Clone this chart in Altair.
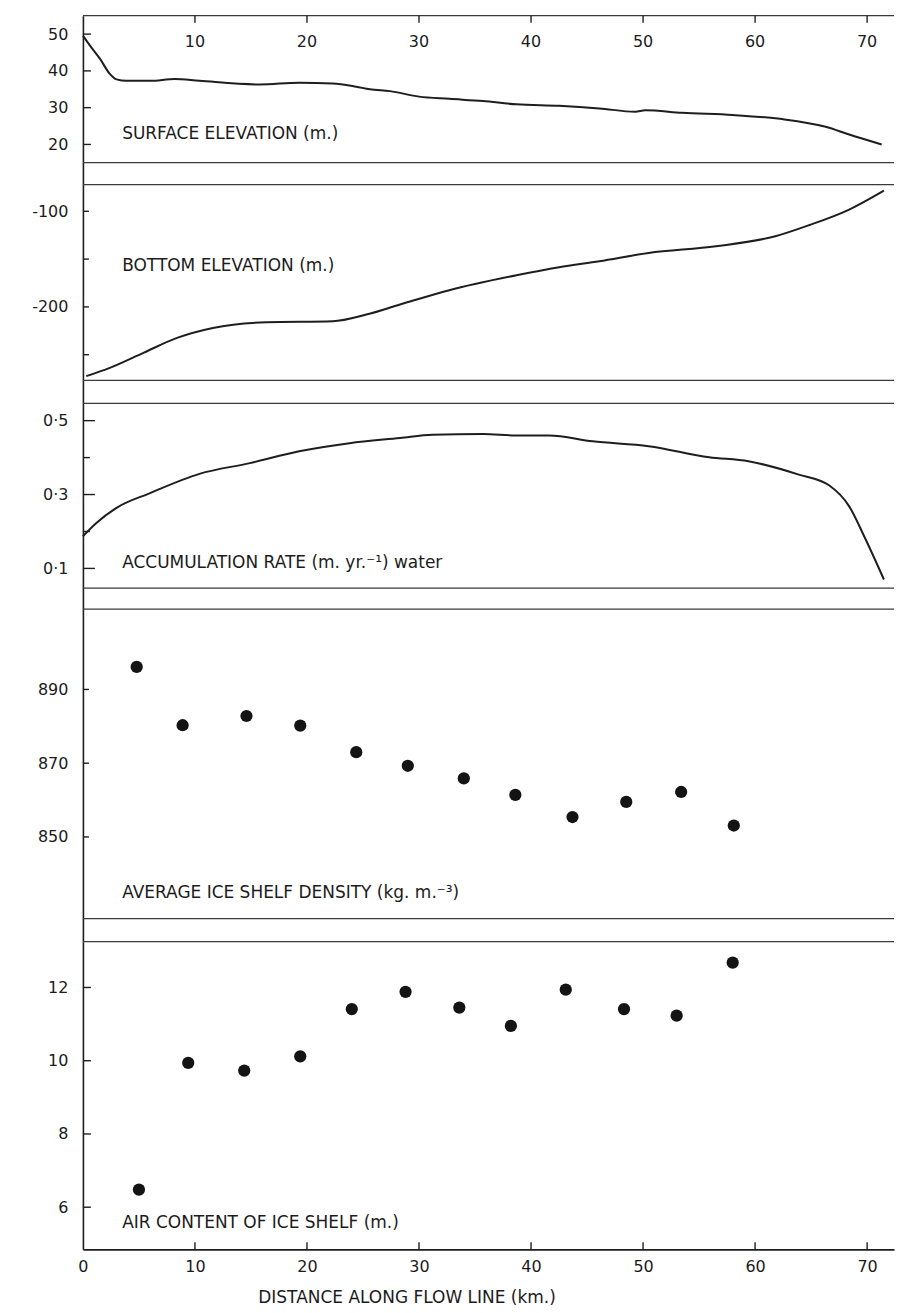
import altair as alt
import pandas as pd

# ---------------- data ----------------
surf_x = [0.0, 0.7, 1.5, 2.4, 3.0, 3.9, 6.0, 8.2, 10.4, 15.8, 19.3, 22.3, 24.4, 25.6, 27.4,
          30.0, 32.7, 35.7, 38.7, 42.5, 46.1, 49.3, 50.2, 53.5, 58.0, 62.4, 66.3, 68.4, 71.3]
surf_y = [49.6, 46.6, 43.4, 39.2, 37.7, 37.3, 37.3, 37.8, 37.3, 36.3, 36.8, 36.6, 35.7, 35.0,
          34.5, 33.0, 32.4, 31.8, 30.9, 30.5, 29.8, 28.9, 29.3, 28.6, 28.0, 26.9, 24.8, 22.7, 20.0]

bot_x = [0.3, 2.4, 5.4, 8.4, 11.6, 16.4, 22.3, 25.3, 28.3, 32.7, 38.7, 42.5, 46.1,
         50.5, 56.5, 61.8, 64.8, 68.4, 71.5]
bot_y = [-272.4, -263.7, -248.0, -232.4, -222.0, -216.0, -215.0, -208.0, -197.5, -182.5,
         -166.9, -158.5, -152.2, -143.6, -136.6, -126.1, -114.6, -98.2, -78.4]

acc_x = [0.0, 1.2, 3.0, 6.0, 10.4, 14.9, 19.3, 23.8, 28.3, 31.2, 35.7, 38.7, 41.6, 45.5,
         50.5, 55.9, 59.4, 63.9, 66.6, 68.4, 69.8, 71.5]
acc_y = [0.187, 0.223, 0.264, 0.304, 0.356, 0.385, 0.417, 0.439, 0.453, 0.462, 0.464, 0.460,
         0.460, 0.444, 0.431, 0.401, 0.390, 0.354, 0.325, 0.268, 0.183, 0.070]

dens_x = [4.8, 8.9, 14.6, 19.4, 24.4, 29.0, 34.0, 38.6, 43.7, 48.5, 53.4, 58.1]
dens_y = [896.1, 880.3, 882.8, 880.2, 873.0, 869.3, 865.9, 861.4, 855.4, 859.5, 862.2, 853.1]

air_x = [5.0, 9.4, 14.4, 19.4, 24.0, 28.8, 33.6, 38.2, 43.1, 48.3, 53.0, 58.0]
air_y = [6.48, 9.94, 9.73, 10.12, 11.41, 11.88, 11.45, 10.95, 11.94, 11.41, 11.23, 12.68]

x_ticks = [0, 10, 20, 30, 40, 50, 60, 70]
surf_ticks = [20, 30, 40, 50]
bot_ticks = [-100, -200]
bot_minor = [-150, -250]
acc_ticks = [0.1, 0.3, 0.5]
acc_minor = [0.2, 0.4]
dens_ticks = [850, 870, 890]
air_ticks = [6, 8, 10, 12]

labels = [
    "SURFACE ELEVATION (m.)",
    "BOTTOM ELEVATION (m.)",
    "ACCUMULATION RATE (m. yr.\u207b\u00b9) water",
    "AVERAGE ICE SHELF DENSITY (kg. m.\u207b\u00b3)",
    "AIR CONTENT OF ICE SHELF (m.)",
]
label_x = 3.5
label_y = [22.8, -157.5, 0.115, 834.9, 5.56]
x_title = "DISTANCE ALONG FLOW LINE (km.)"

# ---------------- styling ----------------
FONT = "DejaVu Sans"
WEIGHT = "normal"
INK = "#1e1e1e"
TXT = "#1c1c1c"
FRAME = "#3a3a3a"
W = 812
FS = 16
LFS = 17
X_DOMAIN = [0, 72.4]
HEIGHTS = [169, 219, 206, 333, 308]
BOTTOM_LINES = [147, 196, 185, 310, None]
Y_DOMAINS = [[9.1, 55.0], [-300.8, -72.0], [-0.010, 0.547], [821.6, 911.8], [4.85, 13.25]]

one = pd.DataFrame({"k": [0]})
U = alt.Undefined


def xscale():
    return alt.Scale(domain=X_DOMAIN, nice=False, zero=False)


def yscale(i):
    return alt.Scale(domain=Y_DOMAINS[i], nice=False, zero=False)


def y_axis(values, expr):
    return alt.Axis(values=values, ticks=False, tickSize=0, labelPadding=15,
                    labelFontSize=FS, labelFont=FONT, labelFontWeight=WEIGHT,
                    labelColor=TXT, labelFlush=False,
                    domainColor=INK, domainWidth=1.6, grid=False, title=None,
                    minExtent=60, maxExtent=60, labelExpr=expr)


def hline(ypix):
    return alt.Chart(one).mark_rule(color=FRAME, strokeWidth=1.3).encode(
        x=alt.value(0), x2=alt.value(W), y=alt.value(ypix))


def yticks(i, values, length):
    df = pd.DataFrame({"y": values})
    return alt.Chart(df).mark_rule(color=INK, strokeWidth=1.4).encode(
        y=alt.Y("y:Q", scale=yscale(i)),
        x=alt.value(0), x2=alt.value(length))


def label_layer(i, has_xaxis):
    df = pd.DataFrame({"x": [label_x], "y": [label_y[i]], "t": [labels[i]]})
    return alt.Chart(df).mark_text(align="left", baseline="middle", font=FONT,
                                   fontSize=LFS, fontWeight=WEIGHT, color=TXT).encode(
        x=alt.X("x:Q", scale=xscale(), axis=U if has_xaxis else None),
        y=alt.Y("y:Q", scale=yscale(i)),
        text="t:N")


def line_layer(i, xs, ys, ticks, expr, x_axis=None):
    df = pd.DataFrame({"x": xs, "y": ys})
    return alt.Chart(df).mark_line(color=INK, strokeWidth=2, interpolate="monotone").encode(
        x=alt.X("x:Q", scale=xscale(), axis=x_axis),
        y=alt.Y("y:Q", scale=yscale(i), axis=y_axis(ticks, expr)))


def dot_layer(i, xs, ys, ticks, expr, x_axis=None):
    df = pd.DataFrame({"x": xs, "y": ys})
    return alt.Chart(df).mark_circle(color="#141414", size=150, opacity=1).encode(
        x=alt.X("x:Q", scale=xscale(), axis=x_axis),
        y=alt.Y("y:Q", scale=yscale(i), axis=y_axis(ticks, expr)))


num_expr = "toString(datum.value)"
dot_expr = "replace(format(datum.value, '.1f'), '.', '\u00b7')"

bottom_axis = alt.Axis(orient="bottom", values=x_ticks, ticks=False, tickSize=0,
                       labelPadding=9, labelFontSize=FS, labelFont=FONT,
                       labelFontWeight=WEIGHT, labelColor=TXT,
                       labelFlush=False, domainColor=INK, domainWidth=1.6, grid=False,
                       title=x_title, titleFont=FONT, titleFontSize=LFS,
                       titleFontWeight=WEIGHT, titleColor=TXT, titleX=324,
                       titleY=40, titleAlign="center", titleBaseline="top")

# top scale (ticks and numbers inside the first panel)
xt_df = pd.DataFrame({"x": x_ticks[1:]})
top_xticks = alt.Chart(xt_df).mark_rule(color=INK, strokeWidth=1.4).encode(
    x=alt.X("x:Q", scale=xscale(), axis=None),
    y=alt.value(0), y2=alt.value(7))
top_xlabels = alt.Chart(xt_df).mark_text(align="center", baseline="middle", font=FONT,
                                         fontSize=FS, fontWeight=WEIGHT, color=TXT).encode(
    x=alt.X("x:Q", scale=xscale(), axis=None),
    y=alt.value(26), text=alt.Text("x:Q", format="d"))

bottom_xticks = alt.Chart(xt_df).mark_rule(color=INK, strokeWidth=1.4).encode(
    x=alt.X("x:Q", scale=xscale()),
    y=alt.value(HEIGHTS[4]), y2=alt.value(HEIGHTS[4] - 7))

p1 = alt.layer(
    line_layer(0, surf_x, surf_y, surf_ticks, num_expr),
    yticks(0, surf_ticks, 8),
    hline(0), hline(BOTTOM_LINES[0]),
    top_xticks, top_xlabels,
    label_layer(0, False),
).properties(width=W, height=HEIGHTS[0])

p2 = alt.layer(
    line_layer(1, bot_x, bot_y, bot_ticks, num_expr),
    yticks(1, bot_ticks + bot_minor, 6),
    hline(0), hline(BOTTOM_LINES[1]),
    label_layer(1, False),
).properties(width=W, height=HEIGHTS[1])

p3 = alt.layer(
    line_layer(2, acc_x, acc_y, acc_ticks, dot_expr),
    yticks(2, acc_ticks, 12),
    yticks(2, acc_minor, 7),
    hline(0), hline(BOTTOM_LINES[2]),
    label_layer(2, False),
).properties(width=W, height=HEIGHTS[2])

p4 = alt.layer(
    dot_layer(3, dens_x, dens_y, dens_ticks, num_expr),
    yticks(3, dens_ticks, 6),
    hline(0), hline(BOTTOM_LINES[3]),
    label_layer(3, False),
).properties(width=W, height=HEIGHTS[3])

p5 = alt.layer(
    dot_layer(4, air_x, air_y, air_ticks, num_expr, x_axis=bottom_axis),
    yticks(4, air_ticks, 8),
    hline(0),
    bottom_xticks,
    label_layer(4, True),
).properties(width=W, height=HEIGHTS[4])

chart = alt.vconcat(p1, p2, p3, p4, p5, spacing=0, bounds="flush").resolve_scale(
    y="independent"
).properties(
    padding={"left": 15, "top": 6, "right": 0, "bottom": 0},
    background="white",
).configure_view(stroke=None)

chart.save("out.html", embed_options={"renderer": "svg", "actions": False})
